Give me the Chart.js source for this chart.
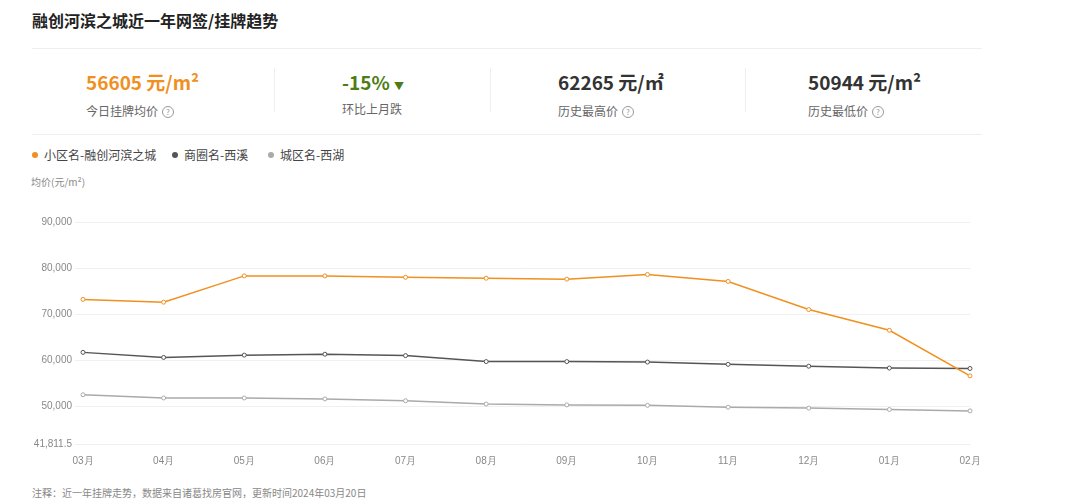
<!DOCTYPE html>
<html><head><meta charset="utf-8">
<script src="https://cdn.jsdelivr.net/npm/chart.js@4"></script>
<style>
body{margin:0;width:1080px;height:500px;background:#fff;font-family:"Noto Sans CJK SC","Noto Sans",sans-serif;position:relative;overflow:hidden}
.abs{position:absolute;white-space:nowrap}
.title{left:32px;top:8px;font-size:16px;font-weight:bold;color:#222}
.hr{position:absolute;left:32px;width:950px;height:1px;background:#eee}
.val{font-size:19px;font-weight:bold;color:#333}
.lab{font-size:12px;color:#666}
.sep{position:absolute;width:1px;height:44px;top:68px;background:#eee}
.q{display:inline-block;width:10px;height:10px;border:1px solid #999;border-radius:50%;font-size:8px;line-height:10px;text-align:center;color:#999;margin-left:4px;vertical-align:1px}
.leg{top:146px;font-size:12px;color:#444}
.dot{display:inline-block;width:6px;height:6px;border-radius:50%;margin-right:6px;vertical-align:2px}
</style></head><body>
<div class="abs title">融创河滨之城近一年网签/挂牌趋势</div>
<div class="hr" style="top:48px"></div>
<div class="abs val" style="left:86px;top:68px;color:#f0901e">56605 元/m²</div>
<div class="abs lab" style="left:86px;top:102px">今日挂牌均价<span class="q">?</span></div>
<div class="sep" style="left:274px"></div>
<div class="abs val" style="left:342px;top:68px;color:#4d7d13">-15% <span style="font-size:10px">▼</span></div>
<div class="abs lab" style="left:342px;top:100px">环比上月跌</div>
<div class="sep" style="left:490px"></div>
<div class="abs val" style="left:558px;top:68px">62265 元/㎡</div>
<div class="abs lab" style="left:558px;top:102px">历史最高价<span class="q">?</span></div>
<div class="sep" style="left:745px"></div>
<div class="abs val" style="left:808px;top:68px">50944 元/m²</div>
<div class="abs lab" style="left:808px;top:102px">历史最低价<span class="q">?</span></div>
<div class="hr" style="top:134px"></div>
<div class="abs leg" style="left:32px"><span class="dot" style="background:#f0901e"></span>小区名-融创河滨之城</div>
<div class="abs leg" style="left:172px"><span class="dot" style="background:#555"></span>商圈名-西溪</div>
<div class="abs leg" style="left:268px"><span class="dot" style="background:#aaa"></span>城区名-西湖</div>
<div class="abs" style="left:31px;top:174px;font-size:10px;color:#888">均价(元/m²)</div>
<div class="abs" style="left:32px;top:485px;font-size:10px;color:#888">注释：近一年挂牌走势，数据来自诸葛找房官网，更新时间2024年03月20日</div>
<div style="position:absolute;left:0;top:212px;width:990px;height:258px"><canvas id="c"></canvas></div>
<script>
const months = ['03月','04月','05月','06月','07月','08月','09月','10月','11月','12月','01月','02月'];
const community = [73200,72600,78300,78300,78000,77800,77600,78600,77100,71000,66500,56605];
const district = [61700,60600,61100,61300,61000,59700,59700,59600,59100,58700,58300,58200];
const city = [52500,51800,51800,51600,51200,50500,50300,50200,49800,49600,49300,49000];
const yTicks = [41811.5,50000,60000,70000,80000,90000];

function ds(label, data, color) {
    return {label, data, borderColor: color, backgroundColor: '#fff', borderWidth: 1.5,
        pointRadius: 2, pointBorderWidth: 1, pointBorderColor: color, tension: 0};
}
new Chart(document.getElementById('c'), {
    type: 'line',
    data: {
        labels: months,
        datasets: [ds('小区名-融创河滨之城', community, '#f0901e'), ds('商圈名-西溪', district, '#555'), ds('城区名-西湖', city, '#aaa')]
    },
    options: {
        responsive: true, maintainAspectRatio: false, animation: false,
        layout: {padding: {top: 10, right: 20}},
        plugins: {legend: {display: false}, tooltip: {enabled: false}},
        scales: {
            x: {grid: {display: false}, border: {display: false},
                ticks: {color: '#888', font: {size: 10}, maxRotation: 0}},
            y: {min: yTicks[0], max: yTicks[yTicks.length - 1],
                afterBuildTicks: a => { a.ticks = yTicks.map(v => ({value: v})); },
                afterFit: a => { a.width = 83; },
                border: {display: false}, grid: {color: '#f0f0f0'},
                ticks: {color: '#888', font: {size: 10}, callback: v => v.toLocaleString('en-US')}}
        }
    }
});
</script>
</body></html>
